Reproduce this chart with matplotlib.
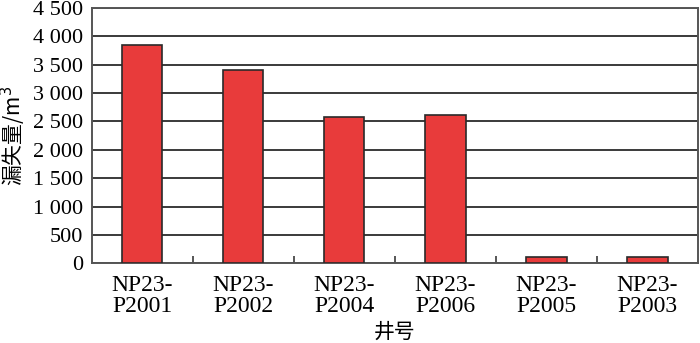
import numpy as np
import matplotlib.pyplot as plt

wells = ['NP23-\nP2001', 'NP23-\nP2002', 'NP23-\nP2004',
         'NP23-\nP2006', 'NP23-\nP2005', 'NP23-\nP2003']
loss = [3850, 3400, 2585, 2610, 115, 115]
yticks = [0, 500, 1000, 1500, 2000, 2500, 3000, 3500, 4000, 4500]
ytick_labels = ['0', '500', '1 000', '1 500', '2 000', '2 500',
                '3 000', '3 500', '4 000', '4 500']

serif = ['Liberation Serif', 'DejaVu Serif']
cjk = ['Noto Sans CJK SC', 'DejaVu Sans']

fig = plt.figure(figsize=(7, 3.43), dpi=100)
ax = fig.add_axes([0.131, 0.232, 0.866, 0.745])

x = np.arange(len(wells))
ax.set_axisbelow(True)
ax.yaxis.grid(True, color='#3a3a3a', linewidth=1.4)
ax.bar(x, loss, width=0.4, color='#e83b3b', edgecolor='#2a2a2a', linewidth=1.2, zorder=3)

ax.set_xlim(-0.5, len(wells) - 0.5)
ax.set_ylim(0, 4500)
ax.set_yticks(yticks)
ax.set_yticklabels(ytick_labels, fontfamily=serif, fontsize=16)
ax.set_xticks(x)
ax.set_xticklabels(wells, fontfamily=serif, fontsize=17, linespacing=1.0)
ax.tick_params(axis='x', length=0, pad=8)
ax.tick_params(axis='y', length=0, pad=6)
ax.set_xticks(np.arange(0.5, len(wells) - 1, 1), minor=True)
ax.tick_params(axis='x', which='minor', direction='in', length=5, color='#3a3a3a', width=1.2)

for s in ax.spines.values():
    s.set_color('#555555')
    s.set_linewidth(1.4)

ax.set_ylabel('漏失量/m$^3$', fontfamily=cjk, fontsize=15)
ax.yaxis.set_label_coords(-0.105, 0.5)
ax.set_xlabel('井号', fontfamily=cjk, fontsize=15, labelpad=3)

fig.savefig('out.png', dpi=100)
